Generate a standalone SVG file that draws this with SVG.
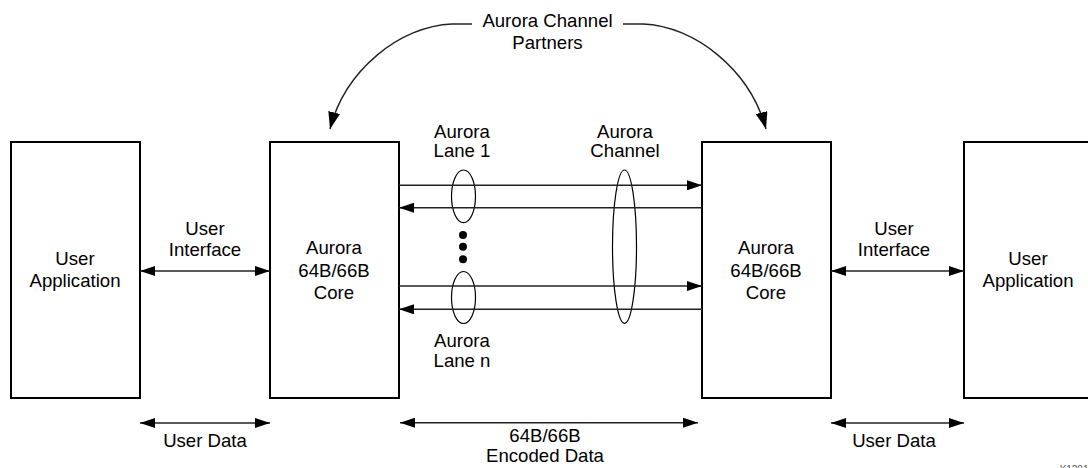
<svg xmlns="http://www.w3.org/2000/svg" width="1088" height="468" viewBox="0 0 1088 468">
<style>
.box{fill:#fff;stroke:#000;stroke-width:2}
.ln{fill:none;stroke:#222;stroke-width:1.4}
.el{fill:none;stroke:#000;stroke-width:1.2}
text{font-family:"Liberation Sans",Arial,sans-serif;font-size:18.6px;fill:#000;text-anchor:middle}
.wm{font-size:10px;fill:#555}
</style>
<defs>
<marker id="ah" viewBox="0 0 15 10" refX="15" refY="5" markerWidth="15" markerHeight="10" markerUnits="userSpaceOnUse" orient="auto-start-reverse">
<path d="M0,0 L15,5 L0,10 Z" fill="#000"/>
</marker>
<marker id="ahb" viewBox="0 0 17 12" refX="17" refY="6" markerWidth="17" markerHeight="12" markerUnits="userSpaceOnUse" orient="auto">
<path d="M0,0 L17,6 L0,12 Z" fill="#000"/>
</marker>
</defs>
<g id="user-app-left">
<rect class="box" x="11" y="142" width="129" height="256"/>
<text x="75" y="265">User</text>
<text x="75" y="287">Application</text>
</g>
<g id="core-left">
<rect class="box" x="270" y="142" width="129" height="256"/>
<text x="334" y="254">Aurora</text>
<text x="334" y="276.5">64B/66B</text>
<text x="334" y="298.5">Core</text>
</g>
<g id="core-right">
<rect class="box" x="702" y="142" width="129" height="256"/>
<text x="766" y="254">Aurora</text>
<text x="766" y="276.5">64B/66B</text>
<text x="766" y="298.5">Core</text>
</g>
<g id="user-app-right">
<rect class="box" x="964" y="142" width="129" height="256"/>
<text x="1028" y="265">User</text>
<text x="1028" y="287">Application</text>
</g>
<g id="lane1">
<ellipse class="el" cx="463.5" cy="196.3" rx="12" ry="26.3"/>
<text x="462" y="138">Aurora</text>
<text x="462" y="157">Lane 1</text>
</g>
<g id="lanen">
<ellipse class="el" cx="463.5" cy="297.5" rx="12" ry="26"/>
<text x="462" y="346.5">Aurora</text>
<text x="462" y="366.5">Lane n</text>
</g>
<g id="dots">
<circle cx="463" cy="235" r="4"/>
<circle cx="463" cy="246.7" r="4"/>
<circle cx="463" cy="259.3" r="4"/>
</g>
<g id="channel">
<ellipse class="el" cx="624.5" cy="246.7" rx="12" ry="76.7"/>
<text x="625" y="138">Aurora</text>
<text x="625" y="157">Channel</text>
</g>
<g id="partners-label">
<text x="547.5" y="26.7">Aurora Channel</text>
<text x="547.5" y="49.3">Partners</text>
</g>
<g id="connectors">
<line class="ln" x1="140" y1="271" x2="270" y2="271" marker-start="url(#ah)" marker-end="url(#ah)"/>
<line class="ln" x1="831" y1="271" x2="964" y2="271" marker-start="url(#ah)" marker-end="url(#ah)"/>
<line class="ln" x1="399" y1="185.3" x2="702" y2="185.3" marker-end="url(#ah)"/>
<line class="ln" x1="702" y1="207.7" x2="399" y2="207.7" marker-end="url(#ah)"/>
<line class="ln" x1="399" y1="286" x2="702" y2="286" marker-end="url(#ah)"/>
<line class="ln" x1="702" y1="309.3" x2="399" y2="309.3" marker-end="url(#ah)"/>
<line class="ln" x1="140" y1="423" x2="270" y2="423" marker-start="url(#ah)" marker-end="url(#ah)"/>
<line class="ln" x1="400" y1="422.7" x2="698" y2="422.7" marker-start="url(#ah)" marker-end="url(#ah)"/>
<line class="ln" x1="831" y1="423" x2="964" y2="423" marker-start="url(#ah)" marker-end="url(#ah)"/>
<path class="ln" d="M472,24 L452,24 C400,26 345,70 330,129" marker-end="url(#ahb)"/>
<path class="ln" d="M623,24 L643,24 C695,26 750,70 766,129" marker-end="url(#ahb)"/>
</g>
<g id="labels">
<text x="205" y="235">User</text>
<text x="205" y="256">Interface</text>
<text x="894" y="235">User</text>
<text x="894" y="256">Interface</text>
<text x="205" y="447">User Data</text>
<text x="894" y="447">User Data</text>
<text x="545" y="441.5">64B/66B</text>
<text x="545" y="461.5">Encoded Data</text>
<text class="wm" x="1074" y="473">X1201</text>
</g>
</svg>
